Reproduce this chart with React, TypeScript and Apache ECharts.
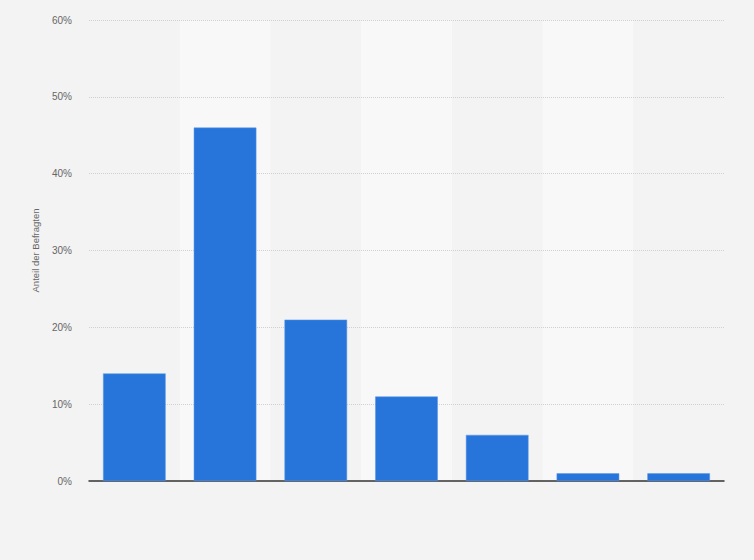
import React, { useEffect, useRef } from 'react';
import * as echarts from 'echarts';

// Kategorien ohne sichtbare Beschriftung im Original
const categories = ['1', '2', '3', '4', '5', '6', '7'];
const anteil = [14, 46, 21, 11, 6, 1, 1];
const yTicks = [0, 10, 20, 30, 40, 50, 60];

const App: React.FC = () => {
  const chartRef = useRef<HTMLDivElement>(null);

  useEffect(() => {
    document.body.style.margin = '0';
    if (!chartRef.current) return;
    const chart = echarts.init(chartRef.current, null, { renderer: 'svg' });

    const option: echarts.EChartsOption = {
      animation: false,
      backgroundColor: '#f3f3f3',
      textStyle: { fontFamily: 'Liberation Sans, Arial, sans-serif' },
      grid: { left: 89, right: 30, top: 20, bottom: 79 },
      xAxis: {
        type: 'category',
        data: categories,
        z: 0,
        axisLabel: { show: false },
        axisTick: { show: false },
        axisLine: { lineStyle: { color: '#333', width: 1.5 } },
        splitArea: {
          show: true,
          areaStyle: { color: ['rgba(0,0,0,0)', '#f8f8f8'] }
        }
      },
      yAxis: {
        type: 'value',
        z: 1,
        min: yTicks[0],
        max: yTicks[yTicks.length - 1],
        interval: 10,
        name: 'Anteil der Befragten',
        nameLocation: 'middle',
        nameGap: 49,
        nameTextStyle: { color: '#666', fontSize: 9.5 },
        axisLine: { show: false },
        axisTick: { show: false },
        axisLabel: {
          formatter: '{value}%',
          color: '#666',
          fontSize: 10,
          margin: 17
        },
        splitLine: {
          showMinLine: false,
          lineStyle: { color: '#d0d0d0', type: [1, 1], width: 1 }
        }
      },
      series: [
        {
          type: 'bar',
          data: anteil,
          z: 2,
          barCategoryGap: '31%',
          itemStyle: {
            color: '#2775db',
            borderColor: '#5e97e6',
            borderWidth: 0.5
          }
        }
      ]
    };

    chart.setOption(option);
    return () => {
      chart.dispose();
    };
  }, []);

  return <div ref={chartRef} style={{ width: '754px', height: '560px' }} />;
};

export default App;
